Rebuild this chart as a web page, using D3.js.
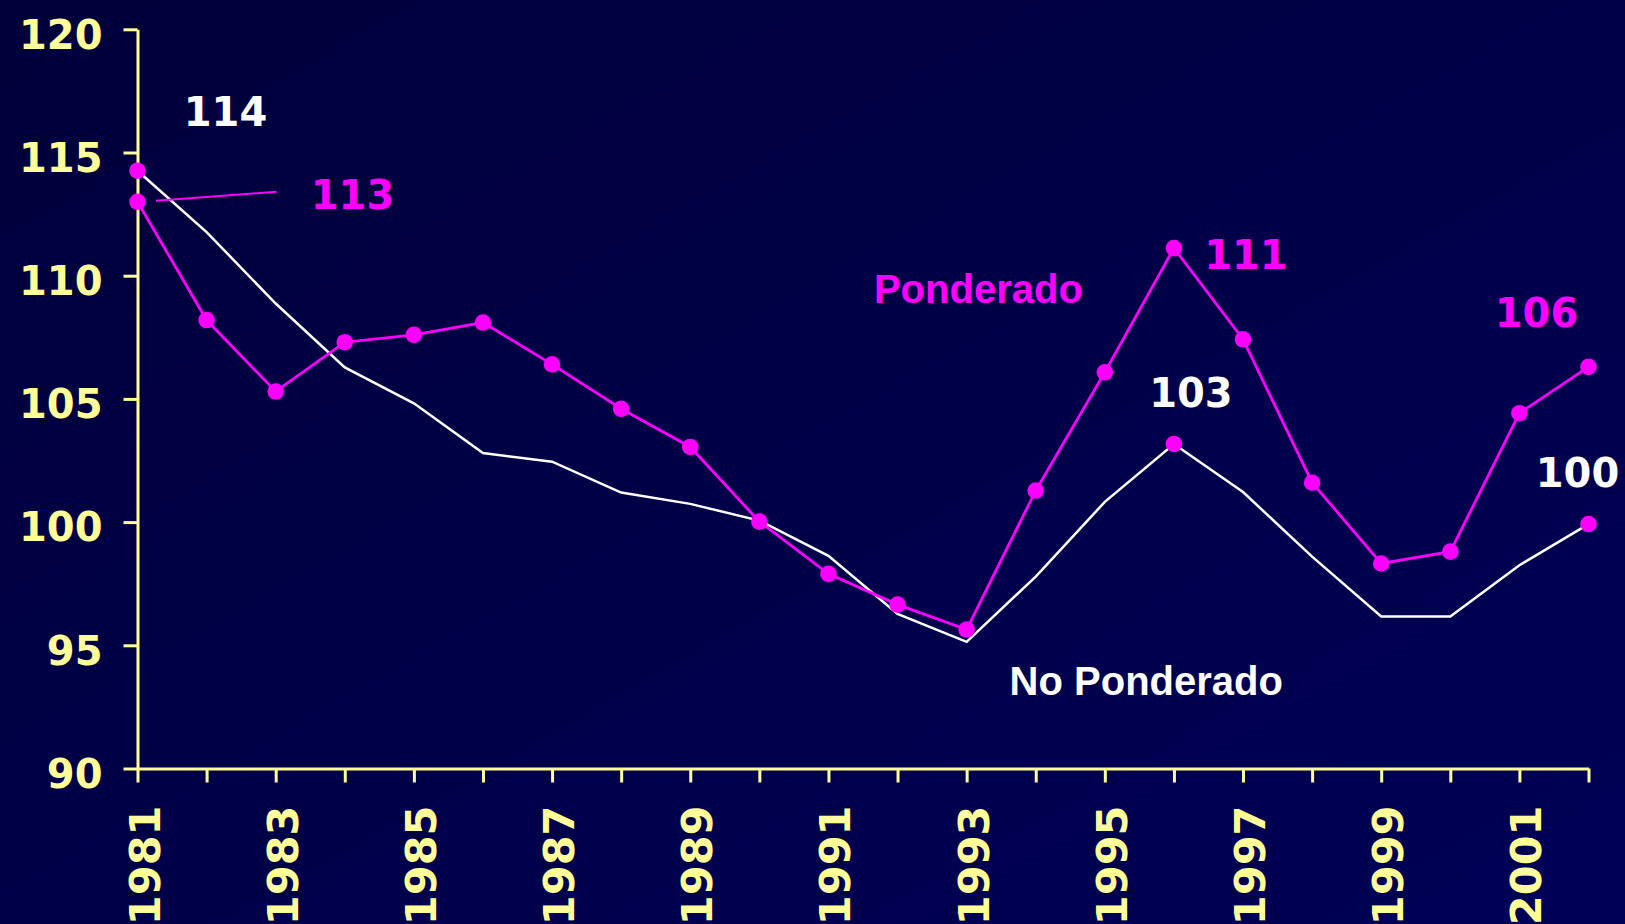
<!DOCTYPE html>
<html>
<head>
<meta charset="utf-8">
<script src="https://cdn.jsdelivr.net/npm/d3@7"></script>
<style>
  body { margin: 0; background: #000044; }
  svg { display: block; }
</style>
</head>
<body>
<svg width="1625" height="924"></svg>
<script>
// Data
let years = d3.range(1981, 2003);
let ponderado = [113.0, 108.2, 105.3, 107.3, 107.6, 108.1, 106.4, 104.6, 103.05, 100.02,
  97.9, 96.65, 95.64, 101.28, 106.08, 111.12, 107.42, 101.6, 98.32, 98.8, 104.42, 106.3];
let noPonderado = [114.26, 111.77, 108.87, 106.28, 104.82, 102.8, 102.45, 101.2, 100.74, 100.06,
  98.63, 96.27, 95.14, 97.79, 100.82, 103.17, 101.22, 98.6, 96.17, 96.17, 98.25, 99.92];
let yTicks = [90, 95, 100, 105, 110, 115, 120];
let xLabels = [1981, 1983, 1985, 1987, 1989, 1991, 1993, 1995, 1997, 1999, 2001];

// Value labels: which point, what text, which series colour
let valueLabels = [
  { year: 1981, value: 114.26, text: '114', series: 'no' },
  { year: 1981, value: 113.0, text: '113', series: 'pond' },
  { year: 1996, value: 111.12, text: '111', series: 'pond' },
  { year: 2002, value: 106.3, text: '106', series: 'pond' },
  { year: 1996, value: 103.17, text: '103', series: 'no' },
  { year: 2002, value: 99.92, text: '100', series: 'no' }
];
// points on the white series that carry a marker
let noPonderadoMarked = [1981, 1996, 2002];

// Layout offsets for the value labels (pixels from the point)
let labelOffsets = {
  '114': [88, -45], '113': [215, 7], '111': [72, 21],
  '106': [-52, -40], '103': [17, -37], '100': [-11, -37]
};

let svg = d3.select('svg');
let width = +svg.attr('width');
let height = +svg.attr('height');

let magenta = '#ff00ff';
let yellow = '#ffff99';

// background
let defs = svg.append('defs');
let grad = defs.append('linearGradient')
    .attr('id', 'bg')
    .attr('x1', '0').attr('y1', '0').attr('x2', '1').attr('y2', '1');
grad.append('stop').attr('offset', '0%').attr('stop-color', '#00003a');
grad.append('stop').attr('offset', '100%').attr('stop-color', '#000056');
svg.append('rect')
    .attr('width', width).attr('height', height)
    .attr('fill', 'url(#bg)');

// scales
let x = d3.scaleLinear().domain([1981, 2002]).range([137.5, 1588.5]);
let y = d3.scaleLinear().domain([90, 120]).range([768.5, 29.3]);

// y axis
let yAxis = svg.append('g')
    .attr('transform', 'translate(' + x(1981) + ',0)')
    .call(d3.axisLeft(y).tickValues(yTicks).tickSize(14).tickSizeOuter(0).tickPadding(21));
yAxis.selectAll('text')
    .attr('dy', '0.47em')
    .style('font-family', '"DejaVu Sans", Verdana, sans-serif')
    .style('font-weight', 'bold')
    .style('font-size', '40px')
    .attr('fill', yellow);

// x axis
let xAxis = svg.append('g')
    .attr('transform', 'translate(0,' + y(90) + ')')
    .call(d3.axisBottom(x).tickValues(years).tickSize(14).tickSizeOuter(0)
      .tickFormat(d => xLabels.indexOf(d) >= 0 ? d : ''));
xAxis.selectAll('text')
    .attr('x', 0).attr('y', 0).attr('dy', null)
    .attr('text-anchor', 'end')
    .attr('transform', 'translate(21.5,37) rotate(-90)')
    .style('font-family', '"DejaVu Sans", Verdana, sans-serif')
    .style('font-weight', 'bold')
    .style('font-size', '43px')
    .attr('fill', yellow);

svg.selectAll('.domain, .tick line')
    .attr('stroke', yellow)
    .attr('stroke-width', 3);

// lines
let line = d3.line()
    .x((d, i) => x(years[i]))
    .y(d => y(d));

svg.append('path')
    .datum(noPonderado)
    .attr('fill', 'none')
    .attr('stroke', '#ffffff')
    .attr('stroke-width', 2.5)
    .attr('d', line);

svg.append('path')
    .datum(ponderado)
    .attr('fill', 'none')
    .attr('stroke', magenta)
    .attr('stroke-width', 2.8)
    .attr('d', line);

// markers
svg.append('g')
  .selectAll('circle')
  .data(ponderado)
  .enter().append('circle')
    .attr('cx', (d, i) => x(years[i]))
    .attr('cy', d => y(d))
    .attr('r', 8.3)
    .attr('fill', magenta);

svg.append('g')
  .selectAll('circle')
  .data(noPonderadoMarked)
  .enter().append('circle')
    .attr('cx', d => x(d))
    .attr('cy', d => y(noPonderado[years.indexOf(d)]))
    .attr('r', 8.3)
    .attr('fill', magenta);

// leader line for 113
svg.append('line')
    .attr('x1', x(1981) + 18.5).attr('y1', y(113.0) - 1)
    .attr('x2', x(1981) + 139).attr('y2', y(113.0) - 10)
    .attr('stroke', magenta)
    .attr('stroke-width', 2);

// value labels
svg.append('g')
  .selectAll('text')
  .data(valueLabels)
  .enter().append('text')
    .attr('x', d => x(d.year) + labelOffsets[d.text][0])
    .attr('y', d => y(d.value) + labelOffsets[d.text][1])
    .attr('text-anchor', 'middle')
    .style('font-family', '"DejaVu Sans", Verdana, sans-serif')
    .style('font-weight', 'bold')
    .style('font-size', '40px')
    .attr('fill', d => d.series === 'pond' ? magenta : '#ffffff')
    .text(d => d.text);

// series names
let seriesNames = [
  { text: 'Ponderado', year: 1993.17, value: 108.89, color: magenta },
  { text: 'No Ponderado', year: 1995.6, value: 92.98, color: '#ffffff' }
];
svg.append('g')
  .selectAll('text')
  .data(seriesNames)
  .enter().append('text')
    .attr('x', d => x(d.year))
    .attr('y', d => y(d.value))
    .attr('text-anchor', 'middle')
    .style('font-family', '"Liberation Sans", Arial, sans-serif')
    .style('font-weight', 'bold')
    .style('font-size', '40px')
    .attr('fill', d => d.color)
    .text(d => d.text);
</script>
</body>
</html>
